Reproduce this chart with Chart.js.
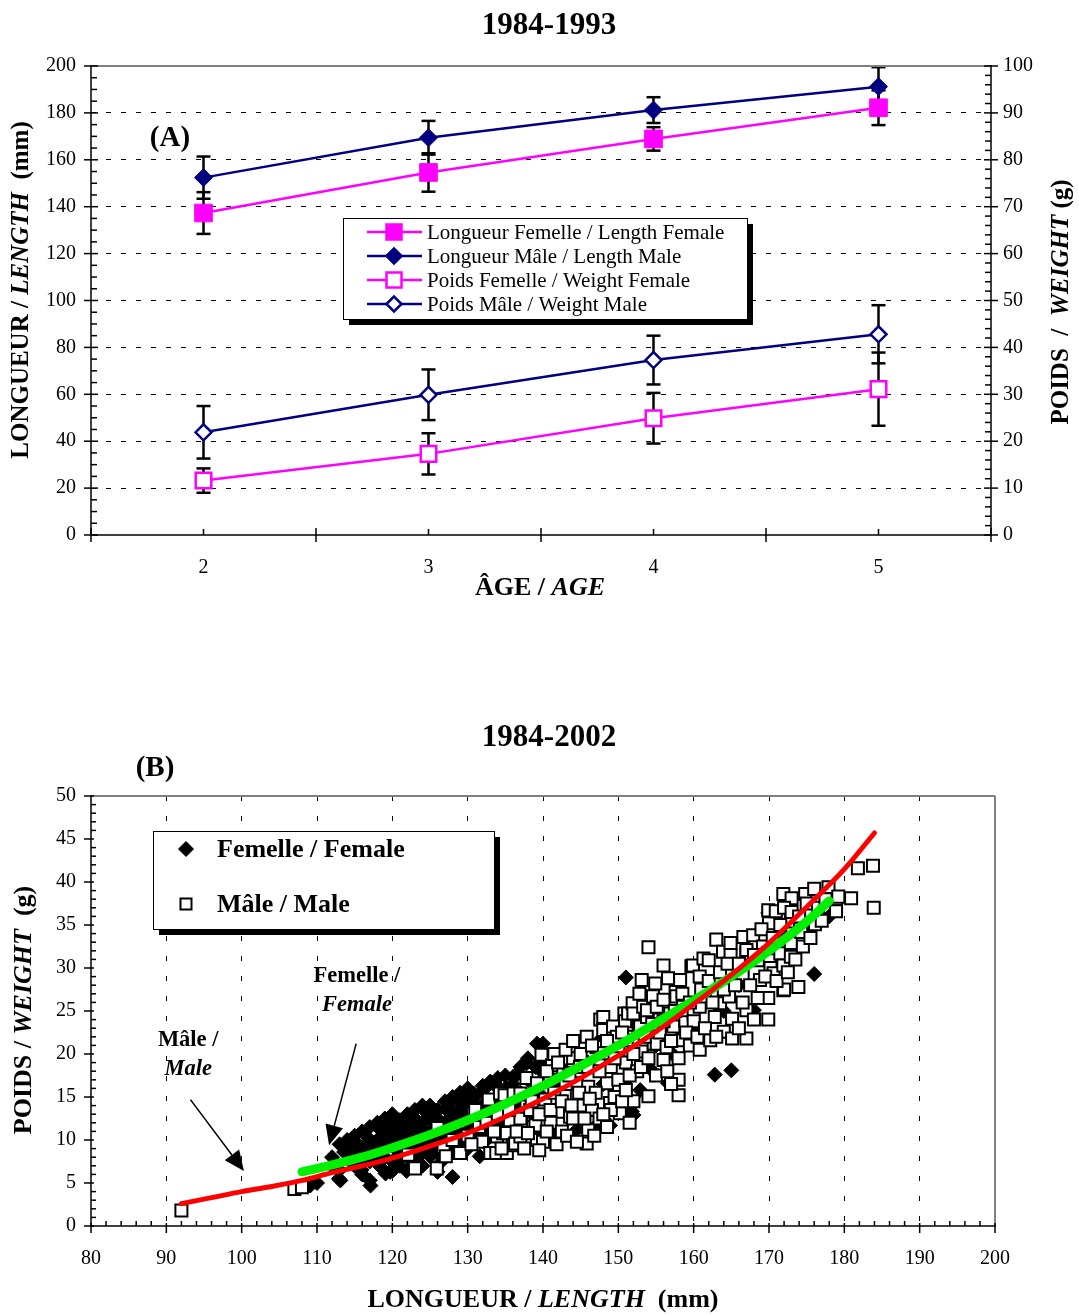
<!DOCTYPE html>
<html>
<head>
<meta charset="utf-8">
<title>Longueur et poids selon l'âge</title>
<script src="https://cdn.jsdelivr.net/npm/chart.js@4.4.0/dist/chart.umd.min.js"></script>
<style>
  body { margin: 0; background: #fff; width: 1079px; height: 1314px; overflow: hidden; position: relative; }
  canvas { position: absolute; left: 0; }
  #chartA { top: 0; }
  #chartB { top: 650px; }
</style>
</head>
<body>
<canvas id="chartA" width="1079" height="650"></canvas>
<canvas id="chartB" width="1079" height="664"></canvas>
<script>
// (A) mean length / weight by age, 1984-1993
const ages = ['2', '3', '4', '5'];
const lenFemale = [137.3, 154.6, 168.9, 182.2];
const lenFemaleSd = [8.9, 8.2, 5.0, 7.4];
const lenMale = [152.4, 169.4, 181.2, 191.2];
const lenMaleSd = [9.0, 7.2, 5.5, 8.3];
const wtFemale = [11.6, 17.3, 24.9, 31.1];
const wtFemaleSd = [2.6, 4.4, 5.4, 7.8];
const wtMale = [21.9, 29.9, 37.3, 42.8];
const wtMaleSd = [5.6, 5.4, 5.2, 6.2];

// (B) length (mm) / weight (g) of individual fish, 1984-2002
const femalePts = [
  [109.1, 4.7], [110.0, 5.0], [112.9, 5.5], [113.1, 5.3], [117.1, 4.7], [117.0, 5.3], [115.9, 6.5], [119.1, 6.1],
  [120.0, 6.4], [121.9, 6.4], [126.0, 6.3], [128.0, 5.7], [122.8, 6.9], [118.4, 6.9], [119.7, 6.3], [124.0, 7.0],
  [126.3, 7.3], [113.6, 8.6], [114.0, 9.0], [115.0, 9.2], [113.9, 8.5], [115.3, 9.6], [116.6, 10.4], [117.0, 8.1],
  [117.5, 9.5], [118.4, 11.2], [118.8, 9.2], [118.7, 11.2], [119.7, 11.9], [120.6, 8.8], [120.9, 11.9], [121.0, 12.3],
  [121.0, 10.0], [122.0, 10.8], [122.8, 10.4], [123.7, 11.5], [124.6, 13.1], [124.0, 9.5], [125.0, 8.1], [125.5, 12.0],
  [126.0, 10.5], [127.2, 13.5], [127.4, 13.9], [128.0, 12.0], [129.0, 14.3], [129.9, 15.4], [129.9, 9.2], [130.5, 11.5],
  [130.8, 15.4], [131.6, 8.1], [132.1, 15.8], [132.5, 10.0], [133.0, 12.5], [133.8, 16.4], [133.9, 13.1], [135.2, 11.5],
  [136.1, 17.4], [136.5, 17.6], [136.1, 13.9], [137.0, 12.3], [137.8, 18.9], [138.3, 15.0], [139.2, 21.2], [140.0, 21.2],
  [140.0, 17.8], [141.4, 10.4], [114.5, 7.5], [115.5, 8.0], [116.0, 7.2], [118.0, 8.5], [119.0, 10.0], [120.0, 9.5],
  [121.0, 8.0], [122.0, 12.0], [123.0, 12.5], [123.0, 9.0], [124.0, 11.0], [125.0, 10.0], [125.5, 13.0], [126.0, 11.5],
  [127.0, 9.0], [128.0, 10.5], [129.0, 12.5], [130.0, 13.5], [131.0, 14.0], [132.0, 13.5], [134.0, 15.0], [135.0, 14.5],
  [135.0, 16.0], [143.0, 18.0], [144.5, 11.2], [147.1, 11.7], [147.3, 21.4], [148.9, 11.7], [151.1, 17.0], [151.8, 13.3],
  [152.0, 12.9], [152.9, 15.8], [154.2, 18.3], [156.6, 16.6], [157.1, 20.1], [161.9, 21.8], [162.8, 17.6], [165.0, 18.1],
  [151.0, 28.9], [168.0, 25.1], [169.9, 36.4], [176.0, 29.3], [178.0, 36.0], [142.0, 16.0], [145.0, 14.0], [146.0, 19.0],
  [148.0, 16.5], [150.0, 19.5], [155.0, 21.0], [158.5, 22.5], [160.0, 23.0], [164.0, 25.0], [166.0, 28.0], [170.0, 30.5],
  [172.0, 33.5],
  [112.0, 8.0], [112.0, 7.0], [113.0, 9.5], [113.0, 6.5], [114.0, 10.0], [115.0, 7.0], [115.0, 10.5], [116.0, 9.0],
  [116.0, 11.0], [116.0, 6.0], [117.0, 10.0], [117.0, 7.5], [117.0, 11.5], [118.0, 10.0], [118.0, 12.0], [118.0, 7.5],
  [119.0, 8.0], [119.0, 12.5], [119.0, 11.0], [120.0, 7.5], [120.0, 10.5], [120.0, 11.5], [120.0, 13.0], [121.0, 9.0],
  [121.0, 11.0], [121.0, 7.0], [122.0, 8.0], [122.0, 9.5], [122.0, 11.5], [122.0, 13.0], [123.0, 7.5], [123.0, 10.5],
  [123.0, 13.5], [123.0, 8.5], [124.0, 8.5], [124.0, 12.0], [124.0, 14.0], [125.0, 9.0], [125.0, 11.0], [125.0, 12.5],
  [125.0, 14.0], [126.0, 8.5], [126.0, 12.5], [126.0, 13.5], [127.0, 8.0], [127.0, 10.5], [127.0, 12.0], [127.0, 14.5],
  [128.0, 9.0], [128.0, 11.5], [128.0, 13.0], [128.0, 15.0], [129.0, 10.0], [129.0, 11.0], [129.0, 13.5], [129.0, 15.5],
  [130.0, 9.0], [130.0, 12.5], [130.0, 14.5], [130.0, 16.0], [131.0, 10.5], [131.0, 12.0], [131.0, 15.0], [132.0, 11.0],
  [132.0, 14.0], [132.0, 16.3], [133.0, 11.5], [133.0, 14.5], [133.0, 16.8], [134.0, 12.0], [134.0, 16.0], [134.0, 17.2],
  [135.0, 13.0], [135.0, 15.5], [135.0, 17.5], [136.0, 12.0], [136.0, 14.5], [136.0, 16.5], [137.0, 13.5], [137.0, 15.5],
  [137.0, 18.5], [138.0, 14.0], [138.0, 17.0], [138.0, 19.5], [139.0, 13.0], [139.0, 16.0], [139.0, 18.5], [140.0, 15.0],
  [140.0, 19.0]
];
const malePts = [
  [92.0, 1.8], [107.0, 4.3], [108.0, 4.5], [121.9, 8.5], [122.1, 8.3], [123.0, 6.7], [125.9, 6.7], [126.8, 9.2],
  [127.1, 8.1], [128.9, 8.5], [129.0, 8.5], [126.0, 11.4], [130.7, 13.1], [131.0, 13.5], [131.6, 10.0], [131.9, 9.8],
  [132.8, 14.7], [133.0, 8.5], [133.8, 8.5], [133.9, 10.4], [134.3, 15.4], [134.7, 10.8], [134.9, 15.2], [135.2, 8.5],
  [135.2, 10.8], [135.6, 12.3], [136.0, 9.4], [136.1, 15.4], [136.3, 9.6], [137.0, 12.5], [137.0, 10.4], [137.0, 15.4],
  [137.8, 17.2], [137.8, 13.9], [138.3, 13.5], [138.7, 11.9], [138.7, 11.5], [139.0, 11.7], [139.2, 10.0], [139.2, 16.6],
  [139.8, 19.9], [140.0, 9.8], [140.3, 14.7], [140.9, 17.0], [141.2, 18.7], [142.0, 13.3], [142.7, 17.8], [142.9, 15.2],
  [143.6, 12.7], [144.0, 19.5], [144.5, 16.6], [144.9, 18.5], [145.8, 9.6], [145.8, 22.0], [146.0, 11.2], [146.0, 16.2],
  [147.1, 20.8], [147.6, 24.0], [148.0, 20.1], [148.0, 22.8], [148.0, 24.3], [148.5, 16.6], [148.9, 14.3], [149.3, 22.8],
  [149.3, 23.2], [149.8, 22.0], [150.2, 13.1], [150.8, 24.7], [150.9, 23.8], [151.1, 22.0], [151.1, 21.6], [151.3, 24.7],
  [151.9, 25.9], [152.0, 24.7], [152.7, 23.2], [152.9, 23.2], [153.1, 20.3], [153.1, 28.6], [153.3, 25.5], [153.8, 24.3],
  [153.8, 25.1], [154.0, 32.4], [154.0, 15.1], [154.6, 26.7], [154.7, 21.2], [154.9, 28.2], [155.1, 21.2], [155.1, 25.5],
  [155.5, 24.0], [156.0, 19.3], [156.0, 30.3], [156.0, 26.3], [156.4, 20.8], [156.6, 28.8], [156.9, 24.7], [157.3, 23.2],
  [157.6, 27.2], [157.7, 26.7], [158.0, 17.0], [158.0, 15.2], [158.2, 28.6], [158.6, 25.5], [158.6, 21.6], [158.9, 23.8],
  [159.1, 25.1], [159.5, 21.0], [159.7, 30.2], [159.9, 30.3], [160.0, 24.7], [160.0, 23.8], [160.8, 25.5], [160.8, 29.0],
  [160.8, 20.5], [161.3, 31.1], [161.5, 26.7], [162.0, 30.9], [162.2, 21.6], [162.8, 24.3], [163.0, 33.3], [163.5, 25.9],
  [163.9, 31.9], [164.0, 22.6], [164.7, 26.7], [164.9, 32.9], [164.9, 31.5], [165.1, 21.8], [165.1, 24.1], [166.5, 29.2],
  [166.6, 33.6], [167.0, 21.8], [167.0, 25.1], [167.0, 31.7], [167.0, 32.1], [167.9, 33.8], [168.8, 30.9], [168.8, 28.6],
  [169.2, 32.5], [169.9, 26.5], [169.9, 24.0], [169.9, 31.7], [169.9, 36.7], [170.0, 35.2], [170.1, 30.9], [170.2, 30.0],
  [170.6, 29.4], [170.9, 36.6], [171.5, 31.7], [171.9, 38.6], [171.9, 30.3], [171.9, 27.4], [172.0, 27.5], [172.9, 35.4],
  [172.9, 31.3], [172.9, 32.9], [173.0, 38.1], [173.9, 27.8], [174.1, 34.6], [174.3, 34.2], [174.8, 38.6], [175.9, 35.2],
  [176.0, 39.2], [176.1, 35.1], [177.9, 39.4], [178.9, 38.0], [178.9, 36.6], [179.2, 38.3], [180.9, 38.1], [181.8, 41.6],
  [183.8, 41.9], [183.9, 37.0], [141.0, 12.0], [142.5, 11.0], [144.0, 12.5], [145.0, 14.0], [146.5, 13.5], [147.0, 15.5],
  [143.0, 16.5], [141.5, 15.5], [146.0, 18.5], [149.0, 18.5], [150.0, 17.0], [151.0, 19.0], [152.5, 18.0], [150.0, 20.5],
  [149.0, 13.5], [152.0, 14.5],
  [128.0, 10.0], [130.0, 10.5], [130.5, 9.5], [131.5, 11.5], [132.5, 12.0], [133.5, 11.0], [134.0, 13.0], [134.5, 9.0],
  [135.5, 13.5], [136.5, 11.0], [137.5, 9.0], [138.0, 10.8], [138.5, 14.5], [139.5, 13.0], [139.5, 8.8], [140.5, 11.0],
  [141.0, 13.5], [141.8, 9.5], [142.5, 14.5], [143.2, 10.5], [143.8, 14.0], [144.5, 9.8], [144.8, 15.5], [145.5, 12.5],
  [146.2, 14.8], [146.8, 10.5], [147.5, 12.5], [148.0, 13.0], [148.5, 11.5], [149.5, 15.0], [150.5, 14.5], [151.0, 15.8],
  [151.5, 12.0], [140.5, 18.0], [141.5, 20.0], [142.0, 19.0], [143.0, 20.5], [144.0, 21.5], [145.0, 20.0], [146.5, 21.0],
  [147.5, 18.0], [148.5, 21.5], [149.5, 19.5], [150.5, 22.5], [143.5, 17.5], [151.5, 17.5], [152.0, 20.0], [153.0, 18.5],
  [153.5, 22.0], [154.0, 19.5], [154.5, 23.5], [155.0, 17.5], [155.5, 22.5], [156.0, 23.8], [156.5, 18.0], [157.0, 21.5],
  [157.5, 25.0], [158.0, 19.5], [158.5, 27.0], [159.0, 22.5], [159.5, 26.0], [157.0, 16.5], [152.8, 27.0], [160.5, 22.0],
  [161.0, 27.5], [161.5, 23.0], [162.0, 28.5], [162.5, 26.0], [163.0, 22.0], [163.5, 29.5], [164.0, 27.5], [164.5, 30.5],
  [165.5, 28.0], [166.0, 23.0], [166.0, 30.5], [166.5, 26.0], [167.5, 28.0], [168.0, 24.0], [168.0, 31.5], [168.5, 26.5],
  [169.0, 34.5], [169.5, 29.0], [170.5, 33.5], [171.0, 28.5], [171.5, 35.0], [172.0, 37.0], [172.5, 29.5], [173.0, 36.5],
  [173.5, 31.0], [174.0, 36.0], [174.5, 32.5], [175.0, 37.5], [175.5, 33.5], [176.5, 37.0], [177.0, 35.5], [177.5, 38.0]
];
// fitted weight-length curves
const maleCurve = [
  [92, 2.6], [96, 3.3], [100, 4.0], [104, 4.6], [108, 5.3], [112, 6.2], [116, 7.0], [120, 7.9], [125, 9.3], [130, 10.8],
  [135, 12.7], [140, 14.8], [145, 17.2], [150, 19.8], [155, 22.6], [160, 25.8], [165, 29.2], [170, 32.9], [175, 37.1],
  [180, 41.5], [184, 45.7]
];
const femaleCurve = [
  [108, 6.3], [112, 7.1], [116, 8.0], [120, 9.1], [125, 10.6], [130, 12.3], [135, 14.2], [140, 16.3], [145, 18.6],
  [150, 21.0], [155, 23.6], [160, 26.2], [165, 29.0], [170, 32.0], [175, 35.4], [178, 37.8]
];

const SERIF = '"Liberation Serif", "Times New Roman", serif';
Chart.defaults.font.family = SERIF;
Chart.defaults.color = '#000';
const MAGENTA = '#ff00ff';
const NAVY = '#000080';
const CLEAR = 'rgba(0,0,0,0)';

function seg(ctx, x1, y1, x2, y2) {
  ctx.beginPath();
  ctx.moveTo(x1, y1);
  ctx.lineTo(x2, y2);
  ctx.stroke();
}

// text made of pieces with their own font style, centred on (x, y)
function richText(ctx, parts, x, y, size, angle) {
  ctx.save();
  ctx.translate(x, y);
  ctx.rotate(angle || 0);
  ctx.textBaseline = 'middle';
  ctx.textAlign = 'left';
  ctx.fillStyle = '#000';
  const widths = parts.map(p => {
    ctx.font = p[1] + ' ' + size + 'px ' + SERIF;
    return ctx.measureText(p[0]).width;
  });
  let cx = -widths.reduce((a, b) => a + b, 0) / 2;
  parts.forEach((p, i) => {
    ctx.font = p[1] + ' ' + size + 'px ' + SERIF;
    ctx.fillText(p[0], cx, 0);
    cx += widths[i];
  });
  ctx.restore();
}

function diamond(ctx, x, y, r, fill, stroke, lw) {
  ctx.beginPath();
  ctx.moveTo(x - r, y);
  ctx.lineTo(x, y - r);
  ctx.lineTo(x + r, y);
  ctx.lineTo(x, y + r);
  ctx.closePath();
  ctx.fillStyle = fill;
  ctx.fill();
  ctx.lineWidth = lw;
  ctx.strokeStyle = stroke;
  ctx.stroke();
}

function square(ctx, x, y, half, fill, stroke, lw) {
  ctx.fillStyle = fill;
  ctx.fillRect(x - half, y - half, half * 2, half * 2);
  ctx.lineWidth = lw;
  ctx.strokeStyle = stroke;
  ctx.strokeRect(x - half, y - half, half * 2, half * 2);
}

function arrow(ctx, x1, y1, x2, y2) {
  const a = Math.atan2(y2 - y1, x2 - x1);
  const len = 20, w = 9;
  const bx = x2 - len * Math.cos(a), by = y2 - len * Math.sin(a);
  ctx.strokeStyle = '#000';
  ctx.lineWidth = 1.5;
  seg(ctx, x1, y1, bx, by);
  ctx.beginPath();
  ctx.moveTo(x2, y2);
  ctx.lineTo(bx + w * Math.sin(a), by - w * Math.cos(a));
  ctx.lineTo(bx - w * Math.sin(a), by + w * Math.cos(a));
  ctx.closePath();
  ctx.fillStyle = '#000';
  ctx.fill();
}

// ---------- chart A ----------
const errorBars = {
  id: 'errorBars',
  beforeDatasetsDraw(chart) {
    const ctx = chart.ctx;
    ctx.save();
    ctx.strokeStyle = '#000';
    ctx.lineWidth = 2.5;
    chart.data.datasets.forEach((ds, i) => {
      const scale = chart.scales[ds.yAxisID];
      chart.getDatasetMeta(i).data.forEach((pt, j) => {
        const hi = scale.getPixelForValue(ds.data[j] + ds.sd[j]);
        const lo = scale.getPixelForValue(ds.data[j] - ds.sd[j]);
        seg(ctx, pt.x, hi, pt.x, lo);
        seg(ctx, pt.x - 7, hi, pt.x + 7, hi);
        seg(ctx, pt.x - 7, lo, pt.x + 7, lo);
      });
    });
    ctx.restore();
  }
};

const frameA = {
  id: 'frameA',
  afterDraw(chart) {
    const ctx = chart.ctx;
    const { left, right, top, bottom } = chart.chartArea;
    const y = chart.scales.y, y2 = chart.scales.y2;
    ctx.save();
    ctx.strokeStyle = '#808080';
    ctx.lineWidth = 2;
    seg(ctx, left, top, right, top);
    ctx.strokeStyle = '#000';
    ctx.lineWidth = 1.5;
    seg(ctx, left, top - 1, left, bottom + 1);
    seg(ctx, right, top - 1, right, bottom + 1);
    seg(ctx, left, bottom, right, bottom);
    for (let v = 0; v <= 200; v += 5) {
      const py = y.getPixelForValue(v);
      if (v % 20 === 0) seg(ctx, left - 7, py, left + 7, py);
      else seg(ctx, left, py, left + 6, py);
    }
    for (let v = 0; v <= 100; v += 2) {
      const py = y2.getPixelForValue(v);
      if (v % 10 === 0) seg(ctx, right - 7, py, right + 7, py);
      else seg(ctx, right - 6, py, right, py);
    }
    const step = (right - left) / ages.length;
    for (let k = 0; k <= ages.length; k++) seg(ctx, left + k * step, bottom - 7, left + k * step, bottom + 7);
    ages.forEach((a, i) => {
      const px = chart.scales.x.getPixelForValue(i);
      seg(ctx, px, bottom - 6, px, bottom);
    });
    ctx.restore();
  }
};

const labelsA = {
  id: 'labelsA',
  afterDraw(chart) {
    const ctx = chart.ctx;
    richText(ctx, [['1984-1993', 'bold']], 549, 26, 31);
    richText(ctx, [['(A)', 'bold']], 170, 139, 29);
    richText(ctx, [['ÂGE / ', 'bold'], ['AGE', 'italic bold']], 540, 588, 26);
    richText(ctx, [['LONGUEUR / ', 'bold'], ['LENGTH', 'italic bold'], ['  (mm)', 'bold']], 22, 290, 25, -Math.PI / 2);
    richText(ctx, [['POIDS  /  ', 'bold'], ['WEIGHT', 'italic bold'], [' (g)', 'bold']], 1062, 302, 25, -Math.PI / 2);

    // legend box with drop shadow
    const x0 = 343, y0 = 218, w = 404, h = 101;
    ctx.save();
    ctx.fillStyle = '#000';
    ctx.fillRect(x0 + 6, y0 + 6, w, h);
    ctx.fillStyle = '#fff';
    ctx.fillRect(x0, y0, w, h);
    ctx.strokeStyle = '#000';
    ctx.lineWidth = 1;
    ctx.strokeRect(x0 + 0.5, y0 + 0.5, w, h);
    chart.data.datasets.forEach((ds, i) => {
      const ly = y0 + 14 + i * 24;
      ctx.strokeStyle = ds.borderColor;
      ctx.lineWidth = 2.5;
      seg(ctx, x0 + 24, ly, x0 + 79, ly);
      if (ds.pointStyle === 'rect') square(ctx, x0 + 51, ly, 7.5, ds.pointBackgroundColor, ds.borderColor, 2.5);
      else diamond(ctx, x0 + 51, ly, 7.5, ds.pointBackgroundColor, ds.borderColor, 2.5);
      ctx.fillStyle = '#000';
      ctx.font = '21px ' + SERIF;
      ctx.textBaseline = 'middle';
      ctx.textAlign = 'left';
      ctx.fillText(ds.label, x0 + 84, ly + 1);
    });
    ctx.restore();
  }
};

new Chart(document.getElementById('chartA'), {
  type: 'line',
  data: {
    labels: ages,
    datasets: [
      { label: 'Longueur Femelle / Length Female', data: lenFemale, sd: lenFemaleSd, yAxisID: 'y',
        borderColor: MAGENTA, pointBackgroundColor: MAGENTA, pointBorderColor: MAGENTA,
        pointStyle: 'rect', pointRadius: 12.5, pointBorderWidth: 1, borderWidth: 2.5 },
      { label: 'Longueur Mâle / Length Male', data: lenMale, sd: lenMaleSd, yAxisID: 'y',
        borderColor: NAVY, pointBackgroundColor: NAVY, pointBorderColor: NAVY,
        pointStyle: 'rectRot', pointRadius: 9, pointBorderWidth: 1, borderWidth: 2.5 },
      { label: 'Poids Femelle / Weight Female', data: wtFemale, sd: wtFemaleSd, yAxisID: 'y2',
        borderColor: MAGENTA, pointBackgroundColor: '#fff', pointBorderColor: MAGENTA,
        pointStyle: 'rect', pointRadius: 11, pointBorderWidth: 2.5, borderWidth: 2.5 },
      { label: 'Poids Mâle / Weight Male', data: wtMale, sd: wtMaleSd, yAxisID: 'y2',
        borderColor: NAVY, pointBackgroundColor: '#fff', pointBorderColor: NAVY,
        pointStyle: 'rectRot', pointRadius: 8, pointBorderWidth: 2.5, borderWidth: 2.5 }
    ]
  },
  options: {
    responsive: false,
    animation: false,
    layout: { padding: { top: 66, left: 0, right: 0, bottom: 0 } },
    plugins: { legend: { display: false }, tooltip: { enabled: false } },
    scales: {
      x: {
        offset: true,
        grid: { display: false, drawTicks: false },
        border: { display: false },
        ticks: { padding: 21, font: { size: 20 } },
        afterFit: s => { s.height = 115; }
      },
      y: {
        position: 'left', min: 0, max: 200,
        ticks: { stepSize: 20, padding: 15, font: { size: 20 } },
        grid: { drawTicks: false, lineWidth: 1,
                color: c => (c.tick && (c.tick.value === 0 || c.tick.value === 200)) ? CLEAR : '#000' },
        border: { display: false, dash: [5, 10] },
        afterFit: s => { s.width = 91; }
      },
      y2: {
        position: 'right', min: 0, max: 100,
        ticks: { stepSize: 10, padding: 12, font: { size: 20 } },
        grid: { display: false, drawTicks: false },
        border: { display: false },
        afterFit: s => { s.width = 88; }
      }
    }
  },
  plugins: [errorBars, frameA, labelsA]
});

// ---------- chart B ----------
const frameB = {
  id: 'frameB',
  afterDraw(chart) {
    const ctx = chart.ctx;
    const { left, right, top, bottom } = chart.chartArea;
    const x = chart.scales.x, y = chart.scales.y;
    ctx.save();
    ctx.strokeStyle = '#808080';
    ctx.lineWidth = 2;
    seg(ctx, left, top, right, top);
    seg(ctx, right, top, right, bottom);
    ctx.strokeStyle = '#000';
    ctx.lineWidth = 1.5;
    seg(ctx, left, top - 1, left, bottom + 1);
    seg(ctx, left, bottom, right + 1, bottom);
    for (let v = 0; v <= 50; v += 1) {
      const py = y.getPixelForValue(v);
      if (v % 5 === 0) seg(ctx, left - 7, py, left + 3, py);
      else seg(ctx, left, py, left + 5, py);
    }
    for (let v = 80; v <= 200; v += 2) {
      const px = x.getPixelForValue(v);
      if (v % 10 === 0) seg(ctx, px, bottom - 3, px, bottom + 7);
      else seg(ctx, px, bottom - 5, px, bottom);
    }
    ctx.restore();
  }
};

const notesB = [
  { text: [[['Femelle /', 'bold']], [['Female', 'italic bold']]], at: [115.3, 29.0], tail: [115.2, 21.2], tip: [111.6, 9.4] },
  { text: [[['Mâle /', 'bold']], [['Male', 'italic bold']]], at: [92.9, 21.6], tail: [93.2, 14.7], tip: [100.3, 6.4] }
];

const labelsB = {
  id: 'labelsB',
  afterDraw(chart) {
    const ctx = chart.ctx;
    const x = chart.scales.x, y = chart.scales.y;
    richText(ctx, [['1984-2002', 'bold']], 549, 88, 31);
    richText(ctx, [['(B)', 'bold']], 155, 119, 29);
    richText(ctx, [['POIDS / ', 'bold'], ['WEIGHT', 'italic bold'], ['  (g)', 'bold']], 24, 360, 26, -Math.PI / 2);
    richText(ctx, [['LONGUEUR / ', 'bold'], ['LENGTH', 'italic bold'], ['  (mm)', 'bold']], 543, 650, 26);

    notesB.forEach(n => {
      const px = x.getPixelForValue(n.at[0]), py = y.getPixelForValue(n.at[1]);
      n.text.forEach((line, i) => richText(ctx, line, px, py + i * 29, 22.5));
      ctx.save();
      arrow(ctx, x.getPixelForValue(n.tail[0]), y.getPixelForValue(n.tail[1]),
            x.getPixelForValue(n.tip[0]), y.getPixelForValue(n.tip[1]));
      ctx.restore();
    });

    // legend box with drop shadow
    const x0 = 153, y0 = 181, w = 341, h = 98;
    ctx.save();
    ctx.fillStyle = '#000';
    ctx.fillRect(x0 + 6, y0 + 6, w, h);
    ctx.fillStyle = '#fff';
    ctx.fillRect(x0, y0, w, h);
    ctx.strokeStyle = '#000';
    ctx.lineWidth = 1;
    ctx.strokeRect(x0 + 0.5, y0 + 0.5, w, h);
    diamond(ctx, x0 + 33, y0 + 18, 7.5, '#000', '#000', 1);
    square(ctx, x0 + 33, y0 + 73, 5.5, '#fff', '#000', 2);
    ctx.fillStyle = '#000';
    ctx.font = 'bold 26px ' + SERIF;
    ctx.textBaseline = 'middle';
    ctx.fillText('Femelle / Female', x0 + 64, y0 + 19);
    ctx.fillText('Mâle / Male', x0 + 64, y0 + 74);
    ctx.restore();
  }
};

const toXY = pts => pts.map(p => ({ x: p[0], y: p[1] }));

new Chart(document.getElementById('chartB'), {
  type: 'scatter',
  data: {
    datasets: [
      { label: 'Mâle (courbe)', data: toXY(maleCurve), showLine: true, borderColor: '#ff0000', borderWidth: 5,
        pointRadius: 0, cubicInterpolationMode: 'monotone', borderCapStyle: 'round' },
      { label: 'Femelle (courbe)', data: toXY(femaleCurve), showLine: true, borderColor: '#00f000', borderWidth: 9,
        pointRadius: 0, cubicInterpolationMode: 'monotone', borderCapStyle: 'round' },
      { label: 'Mâle / Male', data: toXY(malePts), pointStyle: 'rect', pointRadius: 8.5,
        pointBackgroundColor: '#fff', pointBorderColor: '#000', pointBorderWidth: 2 },
      { label: 'Femelle / Female', data: toXY(femalePts), pointStyle: 'rectRot', pointRadius: 7.5,
        pointBackgroundColor: '#000', pointBorderColor: '#000', pointBorderWidth: 1 }
    ]
  },
  options: {
    responsive: false,
    animation: false,
    layout: { padding: { top: 146, left: 0, right: 84, bottom: 0 } },
    plugins: { legend: { display: false }, tooltip: { enabled: false } },
    scales: {
      x: {
        type: 'linear', min: 80, max: 200,
        ticks: { stepSize: 10, padding: 21, font: { size: 20 } },
        grid: { drawTicks: false, lineWidth: 1,
                color: c => (c.tick && (c.tick.value === 80 || c.tick.value === 200)) ? CLEAR : '#000' },
        border: { display: false, dash: [5, 15] },
        afterFit: s => { s.height = 88; }
      },
      y: {
        min: 0, max: 50,
        ticks: { stepSize: 5, padding: 15, font: { size: 20 } },
        grid: { display: false, drawTicks: false },
        border: { display: false },
        afterFit: s => { s.width = 91; }
      }
    }
  },
  plugins: [frameB, labelsB]
});
</script>
</body>
</html>
